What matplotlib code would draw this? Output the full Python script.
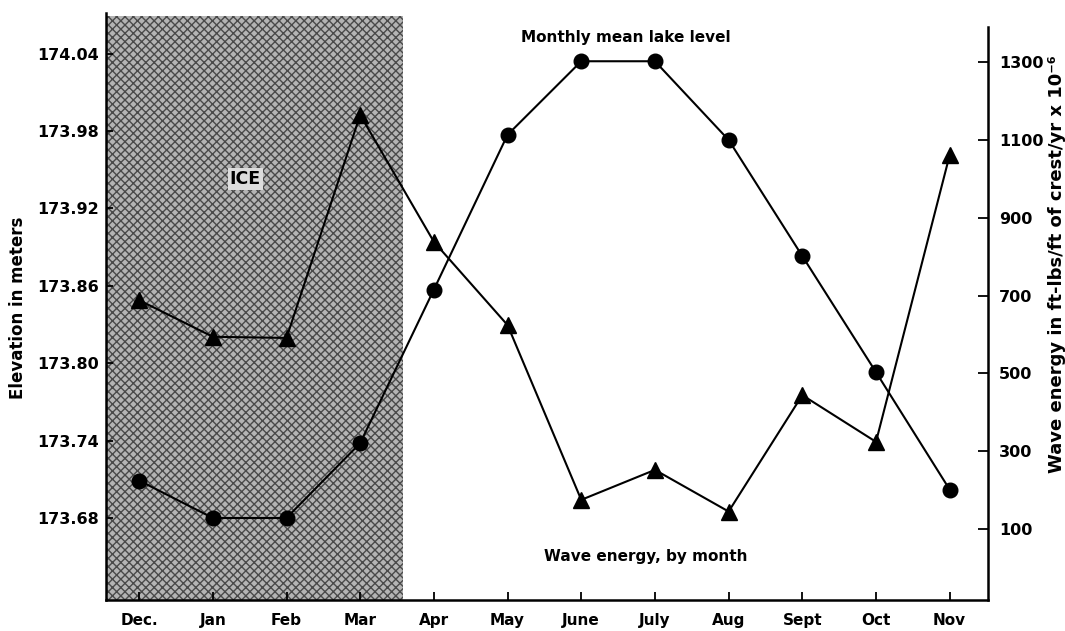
import numpy as np
import matplotlib
matplotlib.use("Agg")
import matplotlib.pyplot as plt

months      = ["Dec.", "Jan", "Feb", "Mar", "Apr", "May", "June",
               "July", "Aug", "Sept", "Oct", "Nov"]
lake_level  = [173.709, 173.680, 173.680, 173.738, 173.857, 173.977,
               174.034, 174.034, 173.973, 173.883, 173.793, 173.702]
wave_energy = [688, 594, 591, 1164, 838, 624, 175, 252, 145, 444, 324, 1061]
elev_ticks  = [173.68, 173.74, 173.80, 173.86, 173.92, 173.98, 174.04]
wave_ticks  = [100, 300, 500, 700, 900, 1100, 1300]

plt.rcParams["font.family"] = ["DejaVu Sans"]
plt.rcParams["hatch.linewidth"] = 1.0

fig = plt.figure(figsize=(10.65, 6.31), dpi=100)
ax = fig.add_axes([0.0995, 0.0491, 0.8282, 0.9303])
ax2 = ax.twinx()

x = np.arange(len(months))

# ice cover shading
ax.axvspan(-0.45, 3.58, ymin=0, ymax=0.995, facecolor="#b4b4b4",
           edgecolor="#4a4a4a", hatch="xxxx", linewidth=0, zorder=0)
ax.text(1.44, 173.943, "ICE", fontsize=12.5, fontweight="bold",
        ha="center", va="center", zorder=3,
        bbox=dict(facecolor="#dcdcdc", edgecolor="none", pad=1.5))

ax.plot(x, lake_level, color="black", linewidth=1.5, marker="o",
        markersize=10.5, zorder=4)
ax2.plot(x, wave_energy, color="black", linewidth=1.5, marker="^",
         markersize=12, zorder=4)

ax.set_xlim(-0.45, 11.52)
ax.set_ylim(173.6164, 174.0714)
ax2.set_ylim(-82.4, 1425.9)

ax.set_xticks(x)
ax.set_xticklabels(months, fontsize=11, fontweight="bold")
ax.set_yticks(elev_ticks)
ax.set_yticklabels([f"{v:.2f}" for v in elev_ticks], fontsize=11.5,
                   fontweight="bold")
ax2.set_yticks(wave_ticks)
ax2.set_yticklabels([str(v) for v in wave_ticks], fontsize=11.5,
                    fontweight="bold")

ax.tick_params(axis="x", direction="in", length=6, width=1.3, pad=9)
ax.tick_params(axis="y", direction="in", length=5, width=1.3, pad=5)
ax2.tick_params(axis="y", direction="in", length=7, width=1.3, pad=8)

for a in (ax, ax2):
    a.spines["top"].set_visible(False)
    for s in ("left", "right", "bottom"):
        a.spines[s].set_linewidth(1.8)
ax2.spines["left"].set_visible(False)
ax2.spines["bottom"].set_visible(False)
ax.spines["right"].set_visible(False)
ax2.spines["right"].set_bounds(-82.4, 1390)

fig.text(0.017, 0.512, "Elevation in meters", rotation=90, fontsize=12,
         fontweight="bold", ha="center", va="center")
fig.text(0.9925, 0.581, "Wave energy in ft-lbs/ft of crest/yr x 10\u207b\u2076",
         rotation=90, fontsize=13, fontweight="bold", ha="center",
         va="center")

ax.text(6.6, 174.0525, "Monthly mean lake level", fontsize=11,
        fontweight="bold", ha="center", va="center")
ax2.text(6.87, 29, "Wave energy, by month", fontsize=11,
         fontweight="bold", ha="center", va="center")

fig.savefig("out.png", dpi=100, facecolor="white")
